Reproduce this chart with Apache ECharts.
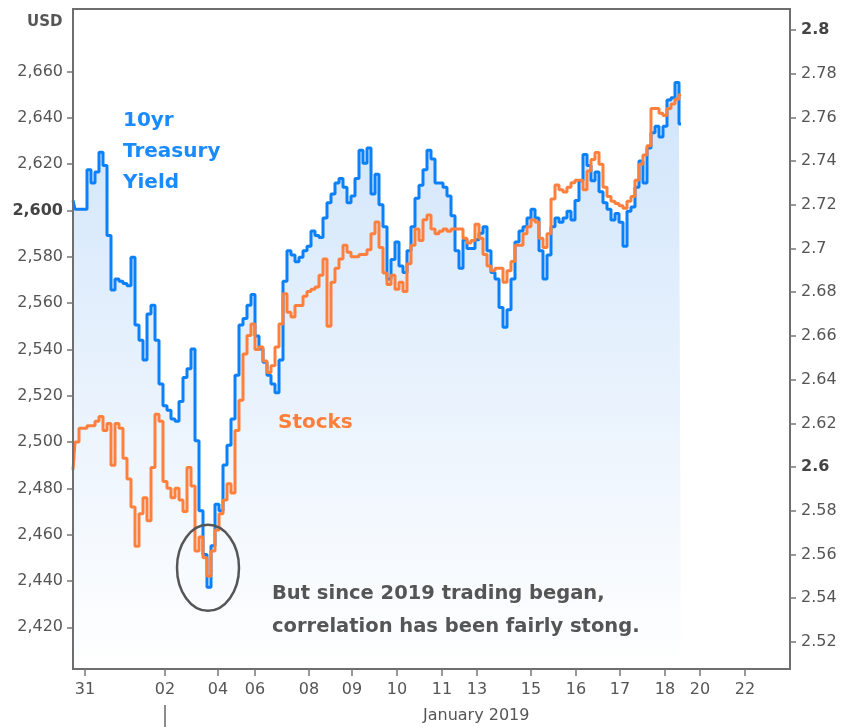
<!DOCTYPE html>
<html>
<head>
<meta charset="utf-8">
<script src="https://cdn.jsdelivr.net/npm/echarts@6/dist/echarts.min.js"></script>
<style>
html, body { margin: 0; padding: 0; background: #fff; }
#chart { width: 843px; height: 727px; }
</style>
</head>
<body>
<div id="chart"></div>
<script>
// x axis: compressed trading time, one slot per step
var dayLabels = ['31', '02', '04', '06', '08', '09', '10', '11', '13', '15', '16', '17', '18', '20', '22'];
var dayTicks = [3, 23, 36.25, 45.5, 59, 69.75, 81, 92.25, 101, 114.5, 125.75, 136.75, 148, 156.75, 168];
var yearTick = 23;

var usdTicks = [2420, 2440, 2460, 2480, 2500, 2520, 2540, 2560, 2580, 2600, 2620, 2640, 2660];
var yieldTicks = [2.52, 2.54, 2.56, 2.58, 2.6, 2.62, 2.64, 2.66, 2.68, 2.7, 2.72, 2.74, 2.76, 2.78, 2.8];

// 10yr treasury yield (right axis)
var yieldValues = [
    2.722, 2.718, 2.718, 2.718, 2.736, 2.730, 2.735, 2.744, 2.738, 2.706,
    2.681, 2.686, 2.685, 2.684, 2.683, 2.696, 2.665, 2.658, 2.649, 2.670,
    2.674, 2.658, 2.638, 2.628, 2.626, 2.622, 2.621, 2.630, 2.641, 2.645,
    2.654, 2.612, 2.580, 2.560, 2.545, 2.564, 2.583, 2.580, 2.601, 2.610,
    2.622, 2.642, 2.665, 2.668, 2.674, 2.679, 2.660, 2.654, 2.648, 2.642,
    2.638, 2.634, 2.649, 2.685, 2.699, 2.697, 2.694, 2.696, 2.699, 2.701,
    2.708, 2.706, 2.705, 2.714, 2.721, 2.725, 2.730, 2.732, 2.728, 2.721,
    2.724, 2.732, 2.745, 2.739, 2.746, 2.725, 2.734, 2.720, 2.710, 2.686,
    2.695, 2.703, 2.692, 2.689, 2.699, 2.710, 2.723, 2.729, 2.736, 2.745,
    2.741, 2.730, 2.730, 2.728, 2.724, 2.715, 2.699, 2.691, 2.704, 2.700,
    2.700, 2.704, 2.707, 2.710, 2.699, 2.689, 2.686, 2.673, 2.664, 2.672,
    2.686, 2.703, 2.708, 2.710, 2.714, 2.718, 2.714, 2.699, 2.686, 2.697,
    2.710, 2.714, 2.712, 2.714, 2.717, 2.713, 2.722, 2.731, 2.743, 2.738,
    2.731, 2.735, 2.726, 2.721, 2.718, 2.713, 2.716, 2.712, 2.701, 2.717,
    2.719, 2.728, 2.740, 2.730, 2.746, 2.753, 2.756, 2.751, 2.756, 2.768,
    2.769, 2.776, 2.757
];

// stocks, USD (left axis)
var stockValues = [
    2488, 2500, 2506, 2506, 2507, 2507, 2509, 2511, 2505, 2508,
    2490, 2508, 2506, 2493, 2484, 2472, 2455, 2469, 2476, 2466,
    2489, 2512, 2509, 2483, 2480, 2476, 2480, 2475, 2470, 2489,
    2481, 2453, 2459, 2450, 2442, 2453, 2462, 2469, 2475, 2482,
    2478, 2505, 2518, 2538, 2546, 2551, 2540, 2541, 2535, 2530,
    2533, 2541, 2551, 2564, 2556, 2554, 2559, 2559, 2563, 2565,
    2566, 2567, 2572, 2579, 2550, 2569, 2575, 2579, 2585, 2582,
    2580, 2580, 2581, 2581, 2583, 2590, 2595, 2584, 2573, 2568,
    2572, 2566, 2569, 2565, 2577, 2585, 2592, 2587, 2596, 2598,
    2592, 2590, 2591, 2592, 2591, 2592, 2592, 2592, 2588, 2586,
    2587, 2594, 2588, 2581, 2576, 2574, 2575, 2575, 2569, 2574,
    2578, 2585, 2585, 2590, 2593, 2596, 2595, 2588, 2584, 2590,
    2605, 2611, 2609, 2608, 2610, 2612, 2613, 2613, 2609, 2617,
    2622, 2625, 2620, 2610, 2606, 2604, 2603, 2602, 2601, 2604,
    2606, 2613, 2620, 2624, 2628, 2644, 2644, 2642, 2641, 2644,
    2646, 2648, 2650
];

var FONT = '"DejaVu Sans", Verdana, sans-serif';
var GREY = '#555';
var FRAME = '#6e6e6e';

function toPairs(arr) {
    return arr.map(function (v, i) { return [i, v]; });
}

var chart = echarts.init(document.getElementById('chart'), null, { renderer: 'canvas' });

var labelStyle = {
    color: GREY,
    fontFamily: FONT,
    fontSize: 16,
    rich: { b: { color: '#444', fontFamily: FONT, fontSize: 16, fontWeight: 'bold' } }
};
var frameLine = { show: true, lineStyle: { color: FRAME, width: 2 } };

chart.setOption({
    animation: false,
    backgroundColor: '#fff',
    grid: {
        left: 73, right: 53, top: 9, bottom: 58,
        show: true,
        borderColor: FRAME,
        borderWidth: 2,
        backgroundColor: 'transparent'
    },
    xAxis: {
        type: 'value',
        min: 0,
        max: 179.25,
        z: 10,
        axisLine: frameLine,
        splitLine: { show: false },
        axisTick: { customValues: dayTicks, length: 7, lineStyle: { color: '#777', width: 1.5 } },
        axisLabel: Object.assign({}, labelStyle, {
            customValues: dayTicks,
            margin: 13,
            formatter: function (v) {
                for (var k = 0; k < dayTicks.length; k++) {
                    if (Math.abs(dayTicks[k] - v) < 0.01) return dayLabels[k];
                }
                return '';
            }
        })
    },
    yAxis: [{
        type: 'value',
        min: 2402,
        max: 2687,
        position: 'left',
        z: 10,
        axisLine: frameLine,
        splitLine: { show: false },
        axisTick: { show: true, customValues: usdTicks, length: 6, lineStyle: { color: '#777', width: 1.5 } },
        axisLabel: Object.assign({}, labelStyle, {
            customValues: usdTicks,
            margin: 10,
            formatter: function (v) {
                var s = Math.round(v).toLocaleString('en-US');
                return Math.round(v) === 2600 ? '{b|' + s + '}' : s;
            }
        })
    }, {
        type: 'value',
        min: 2.5076,
        max: 2.8096,
        position: 'right',
        z: 10,
        axisLine: frameLine,
        splitLine: { show: false },
        axisTick: { show: true, customValues: yieldTicks, length: 6, lineStyle: { color: '#777', width: 1.5 } },
        axisLabel: Object.assign({}, labelStyle, {
            customValues: yieldTicks,
            margin: 11,
            formatter: function (v) {
                var s = String(Math.round(v * 100) / 100);
                return (s === '2.6' || s === '2.8') ? '{b|' + s + '}' : s;
            }
        })
    }],
    series: [{
        name: '10yr Treasury Yield',
        type: 'line',
        yAxisIndex: 1,
        data: toPairs(yieldValues),
        step: 'middle',
        showSymbol: false,
        lineStyle: { color: '#0a80fa', width: 3 },
        areaStyle: {
            origin: 'start',
            color: new echarts.graphic.LinearGradient(0, 0, 0, 1, [
                { offset: 0, color: '#bcd9f9' },
                { offset: 1, color: '#ffffff' }
            ])
        },
        z: 2
    }, {
        name: 'Stocks',
        type: 'line',
        yAxisIndex: 0,
        data: toPairs(stockValues),
        step: 'middle',
        showSymbol: false,
        lineStyle: { color: '#ff803c', width: 3 },
        z: 3
    }]
});

var yearX = chart.convertToPixel({ xAxisIndex: 0 }, yearTick);
var ring = chart.convertToPixel({ xAxisIndex: 0, yAxisIndex: 0 }, [33.75, 2445.7]);

chart.setOption({
    graphic: [
        { type: 'line', z: 100, shape: { x1: yearX, y1: 705, x2: yearX, y2: 727 }, style: { stroke: '#666', lineWidth: 1.5 } },
        { type: 'ellipse', z: 100, shape: { cx: ring[0], cy: ring[1], rx: 31, ry: 43 }, style: { fill: 'none', stroke: '#555', lineWidth: 2.5 } },
        { type: 'text', z: 100, left: 27, top: 15, style: { text: 'USD', fill: GREY, font: 'bold 15px ' + FONT } },
        { type: 'text', z: 100, left: 123, top: 105, style: { text: '10yr\nTreasury\nYield', fill: '#1a8aff', font: 'bold 20px ' + FONT, lineHeight: 31 } },
        { type: 'text', z: 100, left: 278, top: 413, style: { text: 'Stocks', fill: '#ff7f3a', font: 'bold 20px ' + FONT } },
        { type: 'text', z: 100, left: 272, top: 577, style: { text: 'But since 2019 trading began,\ncorrelation has been fairly stong.', fill: GREY, font: 'bold 19.5px ' + FONT, lineHeight: 33 } },
        { type: 'text', z: 100, left: 423, top: 708, style: { text: 'January 2019', fill: GREY, font: '16px ' + FONT } }
    ]
});
</script>
</body>
</html>
